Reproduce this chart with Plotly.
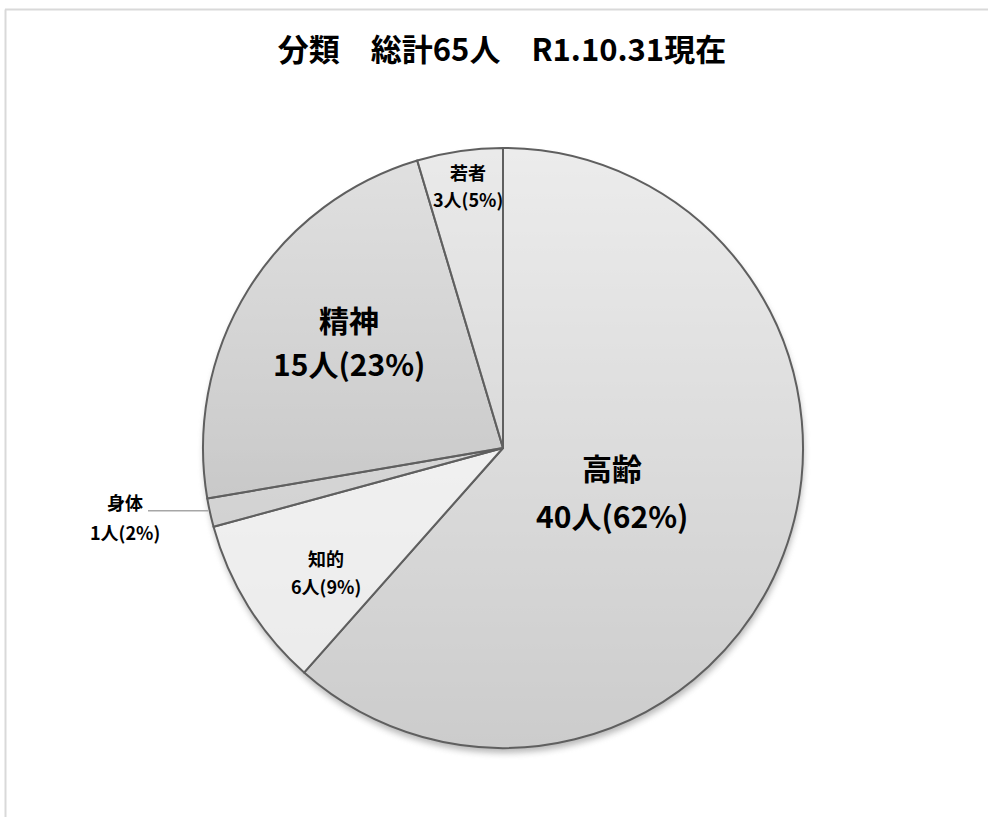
import base64
import math
import plotly.graph_objects as go

# ---- data ----
categories = ["高齢", "知的", "身体", "精神", "若者"]
counts = [40, 6, 1, 15, 3]
title_text = "分類　総計65人　R1.10.31現在"

# ---- styling ----
# each slice: gray level + opacity, laid over a vertically shaded disc
slice_gray = [223, 245, 213, 194, 220]
slice_alpha = [0.6, 0.85, 0.6, 0.49, 0.6]
label_size = [30, 18, 18, 30, 18]
# label block centre (px) and spacing between its two lines (px)
label_xy = [(612, 491), (326, 572), (125, 517), (349, 341), (468, 185)]
label_gap = [48, 28, 30, 43, 27]

W, H = 988, 817
CX, CY, R = 503, 448, 300
FONT = "Noto Sans CJK JP"


def px(x):
    return x / W


def py(y):
    return 1 - y / H


total = sum(counts)
pcts = [round(c * 100 / total) for c in counts]
colors = [f"rgba({g},{g},{g},{a})" for g, a in zip(slice_gray, slice_alpha)]

# shaded disc with soft drop shadow that shows through the slices
svg = f'''<svg xmlns="http://www.w3.org/2000/svg" width="{W}" height="{H}" viewBox="0 0 {W} {H}">
<defs>
<linearGradient id="g" x1="0" y1="0" x2="0" y2="1">
<stop offset="0" stop-color="#ffffff"/><stop offset="1" stop-color="#afafaf"/>
</linearGradient>
<filter id="s" x="-10%" y="-10%" width="120%" height="120%"><feGaussianBlur stdDeviation="3"/></filter>
</defs>
<circle cx="{CX + 1}" cy="{CY + 5}" r="{R}" fill="#7f7f7f" opacity="0.55" filter="url(#s)"/>
<circle cx="{CX}" cy="{CY}" r="{R}" fill="url(#g)"/>
</svg>'''
svg_uri = "data:image/svg+xml;base64," + base64.b64encode(svg.encode("utf-8")).decode("ascii")

fig = go.Figure(go.Pie(
    labels=categories,
    values=counts,
    sort=False,
    direction="clockwise",
    rotation=0,
    textinfo="none",
    hoverinfo="label+value+percent",
    showlegend=False,
    marker=dict(colors=colors, line=dict(color="#5f5f5f", width=2)),
    domain=dict(x=[px(CX - R), px(CX + R)], y=[py(CY + R), py(CY - R)]),
))

annotations = []
for cat, n, p, (lx, ly), gap, fs in zip(categories, counts, pcts, label_xy, label_gap, label_size):
    for text, yy in ((cat, ly - gap / 2), (f"{n}人({p}%)", ly + gap / 2)):
        annotations.append(dict(
            x=px(lx), y=py(yy), xref="paper", yref="paper",
            text=f"<b>{text}</b>", showarrow=False,
            xanchor="center", yanchor="middle",
            font=dict(family=FONT, size=fs, color="#000000"),
        ))

# leader line for the small slice, from its arc midpoint outwards
cum = 0
shapes = []
for cat, n in zip(categories, counts):
    mid = (cum + n / 2) / total * 2 * math.pi
    cum += n
    if cat == "身体":
        ex = CX + R * math.sin(mid)
        ey = CY - R * math.cos(mid) - 2
        shapes.append(dict(type="line", xref="paper", yref="paper",
                           x0=px(ex - 2), y0=py(ey), x1=px(148), y1=py(ey),
                           line=dict(color="#a6a6a6", width=1.5)))

# chart area frame
shapes.append(dict(type="line", xref="paper", yref="paper",
                   x0=px(5), y0=py(9.5), x1=1, y1=py(9.5),
                   line=dict(color="#d9d9d9", width=2)))
shapes.append(dict(type="line", xref="paper", yref="paper",
                   x0=px(5.5), y0=py(9.5), x1=px(5.5), y1=0,
                   line=dict(color="#d9d9d9", width=2)))

fig.update_layout(
    width=W, height=H,
    margin=dict(l=0, r=0, t=0, b=0),
    paper_bgcolor="#ffffff",
    plot_bgcolor="#ffffff",
    title=dict(text=f"<b>{title_text}</b>", x=px(502), y=py(50),
               xanchor="center", yanchor="middle",
               font=dict(family=FONT, size=31, color="#000000")),
    annotations=annotations,
    shapes=shapes,
    images=[dict(source=svg_uri, xref="paper", yref="paper", x=0, y=1,
                 sizex=1, sizey=1, xanchor="left", yanchor="top",
                 sizing="stretch", layer="below")],
)

fig.write_html("out.html")
